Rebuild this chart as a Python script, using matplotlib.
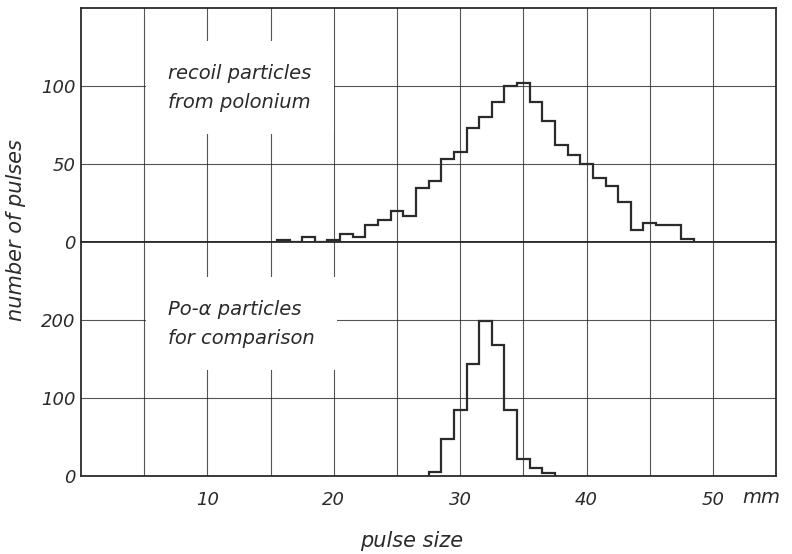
import numpy as np
import matplotlib
matplotlib.use("Agg")
import matplotlib.pyplot as plt
from matplotlib.transforms import blended_transform_factory

# recoil particles from polonium, 1 mm bins
recoil_edges = np.arange(15.5, 49.0, 1.0)
recoil_counts = [1, 0, 3, 0, 1, 5, 3, 11, 14, 20, 17, 35, 39, 53, 58, 73, 80,
                 90, 100, 102, 90, 78, 62, 56, 50, 41, 36, 26, 8, 12, 11, 11, 2]

# Po-alpha particles for comparison
alpha_edges = np.arange(27.5, 38.0, 1.0)
alpha_counts = [5, 48, 84, 144, 199, 168, 85, 22, 10, 4]

x_major = [10, 20, 30, 40, 50]
x_labels = ["10", "20", "30", "40", "50"]
x_minor = [5, 15, 25, 35, 45]
upper_ticks = [0, 50, 100]
lower_ticks = [0, 100, 200]

ink = "#2b2b2b"
plt.rcParams['font.family'] = ['DejaVu Sans']
fs = 13

fig = plt.figure(figsize=(7.92, 5.54), dpi=100)
ax1 = fig.add_axes([0.1023, 0.5632, 0.8777, 0.4215])
ax2 = fig.add_axes([0.1023, 0.1408, 0.8777, 0.4224])

for ax in (ax1, ax2):
    ax.set_xlim(0, 55)
    ax.set_xticks(x_major)
    ax.set_xticks(x_minor, minor=True)
    ax.grid(True, which="both", color=ink, lw=0.8, alpha=0.8)
    ax.set_axisbelow(True)
    ax.tick_params(which="both", length=0, colors=ink, labelsize=fs, pad=4)
    for s in ax.spines.values():
        s.set_color(ink)
        s.set_linewidth(1.3)

ax1.set_ylim(0, 150)
ax1.set_yticks(upper_ticks)
ax1.set_yticklabels([str(t) for t in upper_ticks], style="italic")
ax1.tick_params(axis="x", labelbottom=False)
ax1.stairs(recoil_counts, recoil_edges, color=ink, lw=1.6, zorder=3)

ax2.set_ylim(0, 300)
ax2.set_yticks(lower_ticks)
ax2.set_yticklabels([str(t) for t in lower_ticks], style="italic")
ax2.set_xticklabels(x_labels, style="italic")
ax2.tick_params(axis="x", pad=11)
ax2.stairs(alpha_counts, alpha_edges, color=ink, lw=1.6, zorder=3)

box = dict(facecolor="white", edgecolor="none", pad=16)
ax1.text(6.9, 99, "recoil particles\nfrom polonium", fontsize=14, style="italic",
         color=ink, va="center", ha="left", linespacing=1.7, bbox=box, zorder=2.5)
ax2.text(6.9, 195, "Po-α particles\nfor comparison", fontsize=14, style="italic",
         color=ink, va="center", ha="left", linespacing=1.7, bbox=box, zorder=2.5)

# unit after the last tick label
tr = blended_transform_factory(ax2.transData, ax2.transAxes)
ax2.text(53.8, -0.094, "mm", fontsize=14, style="italic", color=ink,
         ha="center", va="center", transform=tr, clip_on=False)

fig.text(16 / 792, 1 - 230 / 554, "number of pulses", rotation=90, fontsize=15,
         style="italic", color=ink, ha="center", va="center")
fig.text(412 / 792, 1 - 541 / 554, "pulse size", fontsize=15, style="italic",
         color=ink, ha="center", va="center")

fig.savefig("out.png", dpi=100)
